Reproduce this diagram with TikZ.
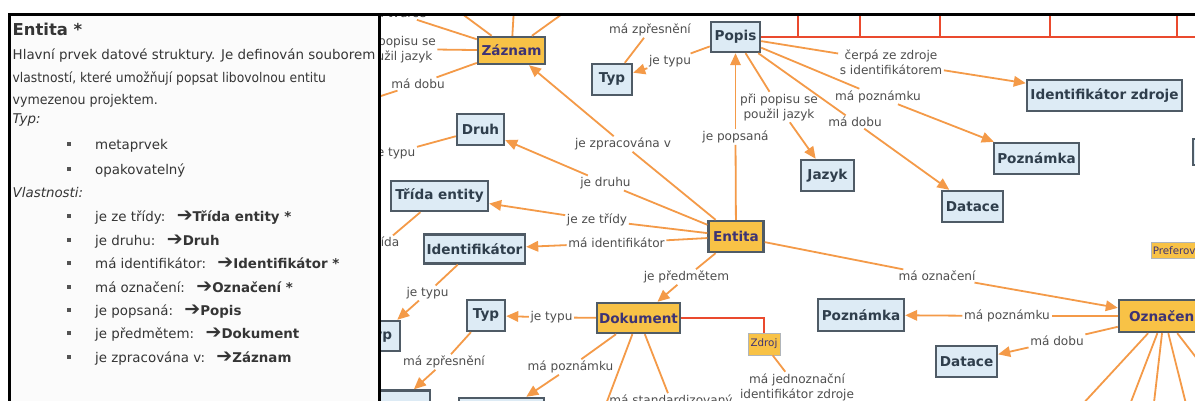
\documentclass[tikz,border=0pt]{standalone}
\usepackage{fontspec}
\setmainfont{DejaVu Sans}
\usetikzlibrary{arrows.meta}

\definecolor{linkor}{HTML}{F49A48}
\definecolor{conceptor}{HTML}{F8C246}
\definecolor{conceptbl}{HTML}{DDEBF5}
\definecolor{rimgray}{HTML}{4F5B66}
\definecolor{nodetxt}{HTML}{2F3E4C}
\definecolor{ortxt}{HTML}{3D3374}
\definecolor{redline}{HTML}{EA4A2E}
\definecolor{labeltxt}{HTML}{4E4E4E}
\definecolor{bodytxt}{HTML}{353535}
\definecolor{panelbg}{HTML}{FBFBFB}

\tikzset{
  concept/.style={draw=rimgray, line width=2.4pt, inner sep=0pt,
    font=\bfseries\fontsize{13.6}{16}\selectfont},
  bluebox/.style={concept, fill=conceptbl, text=nodetxt},
  orbox/.style={concept, fill=conceptor, text=ortxt},
  tagbox/.style={draw=rimgray!45, line width=0.6pt, fill=conceptor, text=ortxt,
    inner sep=1.5pt, font=\fontsize{10.3}{12}\selectfont},
  linklbl/.style={text=labeltxt, inner sep=1.5pt, align=center,
    font=\fontsize{12.1}{15}\selectfont},
  link/.style={draw=linkor, line width=1.8pt},
  linkarr/.style={link, -{Triangle[length=12pt,width=10.5pt]}},
  redrail/.style={draw=redline, line width=1.8pt},
  frame/.style={draw=black, line width=3pt},
  bodytext/.style={anchor=base west, inner sep=0pt, text=bodytxt,
    font=\fontsize{13.4}{16}\selectfont},
  reftext/.style={bodytext, font=\bfseries\fontsize{13.4}{16}\selectfont},
  bulletsq/.style={fill=bodytxt!85},
}

% heavy arrow in front of a referenced element
\newcommand{\refarrow}{{\fontsize{19}{19}\selectfont ➔}}

\begin{document}
\begin{tikzpicture}[x=1pt,y=-1pt]
\useasboundingbox (0,0) rectangle (1195,401);
\fill[white] (0,0) rectangle (1195,401);
\fill[panelbg] (9.5,14.5) rectangle (379.5,401);

% ---------------- concept map ----------------
\begin{scope}
\clip (381,16) rectangle (1195,401);

% concepts
\node[orbox, minimum width=67pt, minimum height=27pt] (zaznam) at (511.5,50.5) {Záznam};
\node[bluebox, minimum width=40pt, minimum height=31pt] (typA) at (612,79.5) {Typ};
\node[bluebox, minimum width=47pt, minimum height=31pt] (druh) at (480.5,129.5) {Druh};
\node[bluebox, minimum width=49pt, minimum height=30pt] (popis) at (735.5,37) {Popis};
\node[bluebox, minimum width=155pt, minimum height=31pt] (idzdroje) at (1104.5,95.5) {Identifikátor zdroje};
\node[bluebox, minimum width=53pt, minimum height=31pt] (jazyk) at (827.5,175.5) {Jazyk};
\node[bluebox, minimum width=61pt, minimum height=31pt] (dataceA) at (972.5,206.5) {Datace};
\node[bluebox, minimum width=85pt, minimum height=31pt] (poznamkaA) at (1036.5,158.5) {Poznámka};
\node[orbox, minimum width=55pt, minimum height=31pt] (entita) at (736,236.5) {Entita};
\node[bluebox, minimum width=97pt, minimum height=30pt] (trida) at (439.5,196) {Třída entity};
\node[bluebox, minimum width=101pt, minimum height=29pt] (ident) at (474.5,249) {Identifikátor};
\node[orbox, minimum width=83pt, minimum height=30pt] (dokument) at (638.5,318) {Dokument};
\node[bluebox, minimum width=38pt, minimum height=31pt] (typB) at (486,315.5) {Typ};
\node[bluebox, minimum width=42pt, minimum height=30pt] (typC) at (379,336) {Typ};
\node[bluebox, minimum width=69pt, minimum height=31pt] (boxBL) at (395.5,406) {};
\node[bluebox, minimum width=85pt, minimum height=31pt] (boxB) at (501.5,413.5) {};
\node[tagbox, minimum width=32pt, minimum height=22pt] (zdroj) at (764,344) {Zdroj};
\node[bluebox, minimum width=86pt, minimum height=32pt] (poznamkaB) at (861,315) {Poznámka};
\node[bluebox, minimum width=61pt, minimum height=31pt] (dataceB) at (966.5,361.5) {Datace};
\node[orbox, minimum width=90pt, minimum height=32pt] (oznaceni) at (1164,316) {Označení};
\node[tagbox, anchor=west, minimum height=16pt] (prefer) at (1151,250) {Preferované};
\node[bluebox, anchor=west, minimum width=60pt, minimum height=26pt] (edgebox) at (1192,152) {};

% linking phrases
\node[linklbl, anchor=base east] (lTvurce) at (428,18) {má tvůrce};
\node[linklbl] (lPopJaz) at (397,49) {při popisu se\\použil jazyk};
\node[linklbl] (lDobuZ) at (418,84) {má dobu};
\node[linklbl] (lZprA) at (650,30) {má zpřesnění};
\node[linklbl] (lTypuA) at (670,61) {je typu};
\node[linklbl] (lCerpa) at (891,62) {čerpá ze zdroje\\s identifikátorem};
\node[linklbl] (lPoznP) at (878,96.5) {má poznámku};
\node[linklbl] (lDobuP) at (855,122) {má dobu};
\node[linklbl] (lJazP) at (779,107) {při popisu se\\použil jazyk};
\node[linklbl] (lPopsana) at (735.5,137) {je popsaná};
\node[linklbl] (lZprac) at (623,144) {je zpracována v};
\node[linklbl] (lDruhu) at (605.5,183) {je druhu};
\node[linklbl] (lTridy) at (597,220) {je ze třídy};
\node[linklbl] (lIdent) at (616.5,243) {má identifikátor};
\node[linklbl] (lPredm) at (686.5,277) {je předmětem};
\node[linklbl] (lOzn) at (937,276) {má označení};
\node[linklbl] (lTypuD) at (551.5,317.5) {je typu};
\node[linklbl] (lTypuI) at (427.5,293) {je typu};
\node[linklbl] (lZprB) at (444,362) {má zpřesnění};
\node[linklbl] (lPoznD) at (570.5,367) {má poznámku};
\node[linklbl] (lStand) at (671,401) {má standardizovaný};
\node[linklbl] (lJedno) at (797,387) {má jednoznační\\identifikátor zdroje};
\node[linklbl] (lPoznO) at (1007,316) {má poznámku};
\node[linklbl] (lDobuO) at (1057,341) {má dobu};
\node[linklbl, anchor=east] (lTrida) at (401,242) {třída};
\node[linklbl, anchor=east] (lTypuDr) at (417,153) {je typu};

% targets beyond the visible part of the map
\coordinate (upA) at (442,-1);
\coordinate (upB) at (515,-10);
\coordinate (upC) at (583,-1);
\coordinate (leftZ) at (350,106);
\coordinate (downD) at (600,420);
\coordinate (downO1) at (1068,420);
\coordinate (downO2) at (1124,420);
\coordinate (downO3) at (1152,420);
\coordinate (downO4) at (1190,420);
\coordinate (downO5) at (1215,382);
\coordinate (railEnd) at (1200,37);
\coordinate (tick1) at (798,10);
\coordinate (tick2) at (860,10);
\coordinate (tick3) at (940,10);
\coordinate (tick4) at (1050,10);
\coordinate (tick5) at (1177,10);

% red structure rails
\draw[redrail] (popis.east) -- (railEnd);
\foreach \t in {tick1,tick2,tick3,tick4,tick5}
  \draw[redrail] (\t) -- (\t |- popis.east);
\draw[redrail] (dokument.east) -| (zdroj.north);

% Záznam
\draw[link] (zaznam) -- (upA);
\draw[link] (zaznam) -- (upB);
\draw[link] (zaznam) -- (upC);
\draw[link] (zaznam) -- (lTvurce);
\draw[link] (zaznam) -- (lPopJaz);
\draw[link] (zaznam) -- (lDobuZ);
\draw[link] (lDobuZ) -- (leftZ);

% Entita
\draw[link] (entita) -- (lZprac);   \draw[linkarr] (lZprac) -- (zaznam);
\draw[link] (entita) -- (lDruhu);   \draw[linkarr] (lDruhu) -- (druh);
\draw[link] (entita) -- (lTridy);   \draw[linkarr] (lTridy) -- (trida);
\draw[link] (entita) -- (lIdent);   \draw[linkarr] (lIdent) -- (ident);
\draw[link] (entita) -- (lPopsana); \draw[linkarr] (lPopsana) -- (popis);
\draw[link] (entita) -- (lPredm);   \draw[linkarr] (lPredm) -- (dokument);
\draw[link] (entita) -- (lOzn);     \draw[linkarr] (lOzn) -- (oznaceni);

% Popis
\draw[link] (popis) -- (lTypuA);    \draw[linkarr] (lTypuA) -- (typA);
\draw[link] (popis) -- (lCerpa);    \draw[linkarr] (lCerpa) -- (idzdroje);
\draw[link] (popis) -- (lPoznP);    \draw[linkarr] (lPoznP) -- (poznamkaA);
\draw[link] (popis) -- (lDobuP);    \draw[linkarr] (lDobuP) -- (dataceA);
\draw[link] (popis) -- (lJazP);     \draw[linkarr] (lJazP) -- (jazyk);
\draw[link] (typA) -- (lZprA);

% Dokument
\draw[link] (dokument) -- (lTypuD); \draw[linkarr] (lTypuD) -- (typB);
\draw[link] (dokument) -- (lPoznD); \draw[linkarr] (lPoznD) -- (boxB);
\draw[link] (dokument) -- (lStand);
\draw[link] (dokument) -- (downD);
\draw[link] (zdroj) -- (lJedno);

% left column
\draw[link] (ident) -- (lTypuI);    \draw[linkarr] (lTypuI) -- (typC);
\draw[link] (typB) -- (lZprB);      \draw[linkarr] (lZprB) -- (boxBL);
\draw[link] (trida) -- (lTrida);
\draw[link] (druh) -- (lTypuDr);

% Označení
\draw[link] (oznaceni) -- (lPoznO); \draw[linkarr] (lPoznO) -- (poznamkaB);
\draw[link] (oznaceni) -- (lDobuO); \draw[linkarr] (lDobuO) -- (dataceB);
\foreach \d in {downO1,downO2,downO3,downO4,downO5}
  \draw[link] (oznaceni) -- (\d);
\end{scope}

% ---------------- description panel ----------------
\node[bodytext, font=\bfseries\fontsize{16.4}{19}\selectfont] (title) at (12.5,36) {Entita *};
\node[bodytext] (d1) at (12.5,60) {Hlavní prvek datové struktury. Je definován souborem};
\node[bodytext] (d2) at (12.5,83) {\scalebox{0.92}[1]{vlastností, které umožňují popsat libovolnou entitu}};
\node[bodytext] (d3) at (12.5,105) {\scalebox{0.94}[1]{vymezenou projektem.}};
\node[bodytext, font=\itshape\fontsize{13.4}{16}\selectfont] (typh) at (12.5,124) {Typ:};
\node[bodytext] (t1) at (95,150) {metaprvek};
\node[bodytext] (t2) at (95,175) {opakovatelný};
\node[bodytext, font=\itshape\fontsize{13.4}{16}\selectfont] (vlh) at (12.5,198) {Vlastnosti:};
% properties: name, then the referenced element
\node[bodytext] (v1) at (95,222) {je ze třídy:};
\node[bodytext] (v2) at (95,245) {je druhu:};
\node[bodytext] (v3) at (95,268) {má identifikátor:};
\node[bodytext] (v4) at (95,292) {má označení:};
\node[bodytext] (v5) at (95,315) {je popsaná:};
\node[bodytext] (v6) at (95,338) {je předmětem:};
\node[bodytext] (v7) at (95,362) {je zpracována v:};
\foreach \v/\r/\txt in {v1/r1/Třída entity *, v2/r2/Druh, v3/r3/Identifikátor *,
    v4/r4/Označení *, v5/r5/Popis, v6/r6/Dokument, v7/r7/Záznam}
  \node[reftext, xshift=11pt] (\r) at (\v.base east) {\refarrow\txt};
\foreach \b in {150,175,222,245,268,292,315,338,362}
  \fill[bulletsq] (67,\b-7.5) rectangle ++(4,4);

% panel frame
\draw[frame] (9.5,401) -- (9.5,14.5) -- (1195,14.5);
\draw[frame] (379.5,14.5) -- (379.5,401);
\end{tikzpicture}
\end{document}
